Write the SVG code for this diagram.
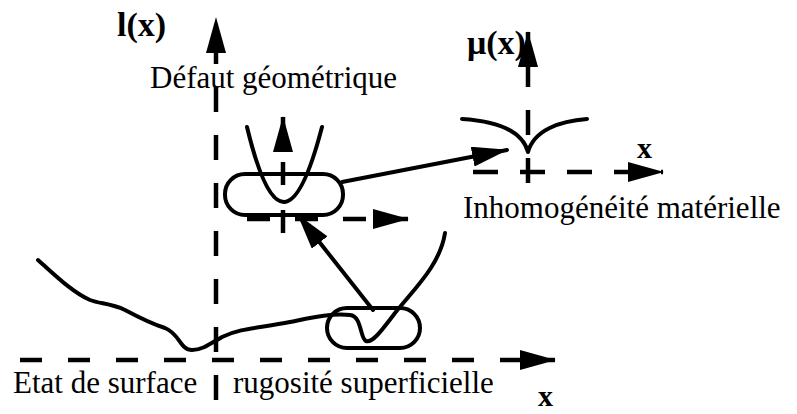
<svg xmlns="http://www.w3.org/2000/svg" width="797" height="414" viewBox="0 0 797 414">
<style>
.t{font-family:"Liberation Serif","Times New Roman",serif;fill:#000}
.lbl{font-size:31px}
.ax{font-size:34px;font-weight:bold}
.xl{font-size:30px;font-weight:bold}
.line{fill:none;stroke:#000;stroke-width:4;stroke-linecap:round;stroke-linejoin:round}
.dash{fill:none;stroke:#000;stroke-width:4.5}
.box{fill:none;stroke:#000;stroke-width:4}
</style>
<defs>
<marker id="ah" markerUnits="userSpaceOnUse" viewBox="0 0 36 20" markerWidth="36" markerHeight="20" refX="35" refY="10" orient="auto">
<path d="M0,0 L36,10 L0,20 z" fill="#000"/>
</marker>
</defs>
<rect width="797" height="414" fill="#fff"/>

<g id="surface-plot">
<path class="dash" d="M216,400 L216,18" stroke-dasharray="25 23" marker-end="url(#ah)"/>
<path class="dash" d="M20,360 L555,360" stroke-dasharray="22 26" marker-end="url(#ah)"/>
<path class="line" d="M38,260 C55,275 72,292 90,300 C100,304 110,303 125,310 C140,318 152,324 165,328 C180,334 180,350 192,350 C202,350 210,344 222,337 C240,328 260,328 290,322 C310,318 330,313 350,315 C362,316 360,339 366,341 C372,343 380,333 395,313 C415,288 440,265 445,233"/>
<text class="t ax" x="117" y="36">l(x)</text>
<text class="t lbl" x="13" y="393">Etat de surface</text>
<text class="t lbl" x="233" y="393">rugosité superficielle</text>
<text class="t xl" x="538" y="406">x</text>
</g>

<g id="surface-node">
<rect class="box" x="327" y="308" width="93" height="40" rx="20"/>
</g>

<g id="defaut-node">
<path class="dash" d="M283,233 L283,117" stroke-dasharray="23 25" marker-end="url(#ah)"/>
<path class="dash" d="M247,219 L408,219" stroke-dasharray="23 25" marker-end="url(#ah)"/>
<path class="line" d="M247,127 Q283,277 322,127"/>
<rect class="box" x="225" y="174" width="118" height="41" rx="20"/>
<text class="t lbl" x="150" y="88">Défaut géométrique</text>
</g>

<g id="mu-node">
<path class="dash" d="M528,183 L528,32" stroke-dasharray="25 23" marker-end="url(#ah)"/>
<path class="dash" d="M473,172 L663,172" stroke-dasharray="25 22" marker-end="url(#ah)"/>
<path class="line" d="M462,119 C495,121 522,130 528,152 C534,130 560,121 587,119"/>
<text class="t ax" x="467" y="54">μ(x)</text>
<text class="t xl" x="637" y="158">x</text>
<text class="t lbl" x="463" y="218">Inhomogénéité matérielle</text>
</g>

<g id="connectors">
<path class="line" d="M373,310 L298,215" marker-end="url(#ah)"/>
<path class="line" d="M342,182 L507,150" marker-end="url(#ah)"/>
</g>
</svg>
